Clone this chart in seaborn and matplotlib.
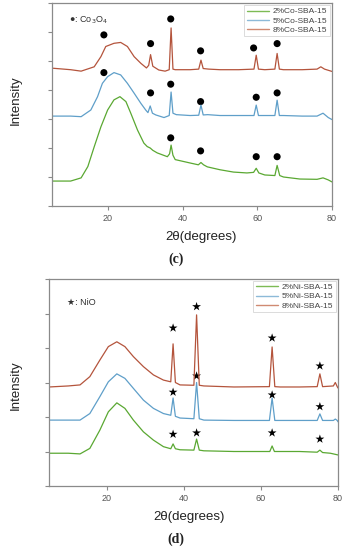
import numpy as np
import pandas as pd
import matplotlib
matplotlib.use("Agg")
import matplotlib.pyplot as plt
import seaborn as sns
from matplotlib.lines import Line2D

# ---------------- data ----------------
# Panel (c): Co-SBA-15
co2_x = [5.3, 10, 12.8, 14.6, 16.3, 18.1, 19.9, 21.6, 23.2, 24.8, 26.1, 27.9, 29.6, 30.5, 31.3, 32.0, 33.2, 35.9, 36.5, 36.9, 37.4, 38, 42.1, 44.2, 44.9, 45.6, 46.6, 50, 53.6, 57.2, 59.0, 59.7, 60.4, 62, 64.7, 65.3, 66, 67, 71.4, 76, 77.6, 79, 80]
co2_y = [0.86, 0.86, 0.97, 1.36, 2.04, 2.73, 3.31, 3.66, 3.77, 3.6, 3.2, 2.62, 2.17, 2.05, 2.0, 1.92, 1.83, 1.7, 1.8, 2.1, 1.75, 1.6, 1.48, 1.42, 1.5, 1.42, 1.35, 1.25, 1.17, 1.14, 1.16, 1.3, 1.14, 1.07, 1.05, 1.4, 1.05, 1.0, 0.93, 0.92, 0.97, 0.9, 0.83]

co5_x = [5.3, 10, 12.8, 15.4, 17.2, 18.5, 19.9, 21.6, 23.4, 25.2, 27, 28.8, 30.1, 30.7, 31.3, 31.9, 32.8, 35, 36.4, 36.9, 37.4, 38.3, 42, 44.3, 44.9, 45.5, 46.7, 50, 53.8, 57.4, 59.1, 59.7, 60.3, 62, 64.7, 65.3, 65.9, 67, 72, 76, 77.6, 79, 80]
co5_y = [3.1, 3.1, 3.08, 3.31, 3.77, 4.23, 4.46, 4.6, 4.52, 4.23, 3.89, 3.54, 3.31, 3.22, 3.45, 3.2, 3.14, 3.05, 3.12, 3.93, 3.2, 3.15, 3.12, 3.13, 3.48, 3.14, 3.15, 3.12, 3.12, 3.12, 3.12, 3.48, 3.12, 3.12, 3.12, 3.65, 3.12, 3.12, 3.1, 3.1, 3.2, 3.05, 2.98]

co8_x = [5.3, 10, 12.8, 16.3, 18.1, 19.4, 21.6, 23.4, 25.2, 27, 28.8, 30.3, 30.9, 31.4, 32, 33.6, 35.3, 36.4, 36.9, 37.4, 38, 42, 44.3, 44.9, 45.5, 47, 50, 55, 59.1, 59.7, 60.3, 62, 64.7, 65.3, 65.9, 67, 72, 76, 77, 78, 80]
co8_y = [4.75, 4.7, 4.65, 4.8, 5.15, 5.5, 5.61, 5.64, 5.5, 5.15, 4.92, 4.76, 4.85, 5.22, 4.82, 4.69, 4.65, 4.7, 6.14, 4.72, 4.7, 4.7, 4.72, 5.03, 4.74, 4.72, 4.7, 4.7, 4.72, 5.2, 4.72, 4.7, 4.72, 5.26, 4.72, 4.7, 4.7, 4.72, 4.8, 4.72, 4.64]

co_peak_x = [18.9, 31.4, 36.8, 44.8, 59.0, 65.3]
co8_mark_y = [5.9, 5.6, 6.45, 5.35, 5.45, 5.6]
co5_mark_x = [18.9, 31.4, 36.8, 44.8, 59.7, 65.3]
co5_mark_y = [4.6, 3.9, 4.2, 3.6, 3.75, 3.9]
co2_mark_x = [36.8, 44.8, 59.7, 65.3]
co2_mark_y = [2.35, 1.9, 1.7, 1.7]

# Panel (d): Ni-SBA-15
ni2_x = [5, 10, 13.05, 15.6, 18.2, 20.4, 22.6, 24.7, 26.9, 29.5, 32.1, 34.7, 36.6, 37.2, 37.8, 39, 42.6, 43.3, 44.0, 45.2, 53, 61.8, 62.3, 62.9, 63.5, 64.9, 70, 74.6, 75.3, 76, 78, 80]
ni2_y = [0.95, 0.95, 0.93, 1.09, 1.62, 2.15, 2.41, 2.25, 1.91, 1.57, 1.33, 1.14, 1.08, 1.22, 1.08, 1.05, 1.04, 1.36, 1.04, 1.02, 1.0, 1.0, 1.0, 1.16, 1.0, 1.0, 1.0, 0.98, 1.04, 0.97, 0.95, 0.9]

ni5_x = [5, 10, 13.05, 15.6, 18.2, 20.4, 22.6, 24.7, 26.9, 29.5, 32.1, 34.7, 36.6, 37.2, 37.8, 39, 42.6, 43.3, 44.0, 45.2, 53, 62.2, 62.9, 63.6, 65, 70, 74.6, 75.3, 76, 78.8, 79.3, 79.8, 80]
ni5_y = [1.91, 1.91, 1.91, 2.1, 2.59, 3.02, 3.25, 3.12, 2.83, 2.49, 2.25, 2.1, 2.05, 2.55, 2.02, 1.97, 1.95, 3.0, 1.95, 1.91, 1.9, 1.9, 2.55, 1.9, 1.9, 1.9, 1.9, 2.09, 1.9, 1.9, 1.94, 1.9, 1.86]

ni8_x = [5, 10, 13.05, 15.6, 18.2, 20.4, 22.6, 24.7, 26.9, 29.5, 32.1, 34.7, 36.6, 37.2, 37.8, 39, 42.6, 43.3, 44.0, 45.2, 53, 62.2, 62.9, 63.6, 65, 70, 74.6, 75.3, 76, 78.8, 79.3, 79.8, 80]
ni8_y = [2.87, 2.9, 2.93, 3.17, 3.65, 4.04, 4.18, 4.04, 3.75, 3.46, 3.22, 3.07, 3.02, 4.12, 3.0, 2.93, 2.92, 4.96, 2.92, 2.9, 2.87, 2.88, 4.03, 2.88, 2.87, 2.87, 2.88, 3.25, 2.88, 2.9, 3.0, 2.88, 2.84]

ni_peak_x = [37.2, 43.3, 62.9, 75.3]
ni8_mark_y = [4.58, 5.2, 4.29, 3.48]
ni5_mark_y = [2.72, 3.19, 2.64, 2.3]
ni2_mark_y = [1.5, 1.54, 1.54, 1.36]

co_labels = ["2%Co-SBA-15", "5%Co-SBA-15", "8%Co-SBA-15"]
ni_labels = ["2%Ni-SBA-15", "5%Ni-SBA-15", "8%Ni-SBA-15"]
x_ticks = [20, 40, 60, 80]

# ---------------- styling ----------------
sns.set_theme(style="ticks")
plt.rcParams['font.family'] = ['Liberation Sans', 'DejaVu Sans']

GREEN = "#5aa832"
BLUE = "#5f9fc9"
RED = "#b4543c"
LEG_COLORS = ["#7dbb55", "#8dbad8", "#d08a72"]
SPINE = "#8a8a8a"

fig = plt.figure(figsize=(3.47, 5.5), dpi=100)
ax1 = fig.add_axes([52/347, 1-206/550, 280/347, 203/550])
ax2 = fig.add_axes([49/347, 1-486/550, 289/347, 207/550])

def series_df(xs, ys, labels):
    frames = []
    for x, y, lab in zip(xs, ys, labels):
        frames.append(pd.DataFrame({"x": x, "y": y, "s": lab}))
    return pd.concat(frames, ignore_index=True)

co_df = series_df([co2_x, co5_x, co8_x], [co2_y, co5_y, co8_y], co_labels)
ni_df = series_df([ni2_x, ni5_x, ni8_x], [ni2_y, ni5_y, ni8_y], ni_labels)

sns.lineplot(data=co_df, x="x", y="y", hue="s", palette=[GREEN, BLUE, RED],
             sort=False, estimator=None, linewidth=0.9, ax=ax1, legend=False)
sns.lineplot(data=ni_df, x="x", y="y", hue="s", palette=[GREEN, BLUE, RED],
             sort=False, estimator=None, linewidth=0.9, ax=ax2, legend=False)

# markers
co_mk = pd.DataFrame({
    "x": co_peak_x + co5_mark_x + co2_mark_x,
    "y": co8_mark_y + co5_mark_y + co2_mark_y})
sns.scatterplot(data=co_mk, x="x", y="y", color="black", marker="o", s=26,
                edgecolor="none", ax=ax1, legend=False)
ni_mk = pd.DataFrame({
    "x": ni_peak_x * 3,
    "y": ni8_mark_y + ni5_mark_y + ni2_mark_y})
sns.scatterplot(data=ni_mk, x="x", y="y", color="black", marker="*", s=45,
                edgecolor="none", ax=ax2, legend=False)

for ax, ymax in ((ax1, 7), (ax2, 6)):
    ax.set_xlim(5, 80)
    ax.set_ylim(0, ymax)
    ax.set_xticks(x_ticks)
    ax.set_xticklabels([str(t) for t in x_ticks], fontsize=6.5, color="#555555")
    ax.set_yticks(range(0, ymax + 1))
    ax.set_yticklabels([])
    ax.set_xlabel("")
    ax.set_ylabel("")
    for sp in ax.spines.values():
        sp.set_color(SPINE)
        sp.set_linewidth(0.9)
    ax.tick_params(axis="both", colors=SPINE, length=3, width=0.8, pad=3,
                   labelcolor="#555555")

# legends
for ax, labels in ((ax1, co_labels), (ax2, ni_labels)):
    handles = [Line2D([0], [0], color=c, lw=1.0) for c in LEG_COLORS]
    leg = ax.legend(handles, labels, loc="upper right", fontsize=6,
                    frameon=True, handlelength=2.6, handletextpad=0.5,
                    labelspacing=0.15, borderpad=0.3, borderaxespad=0.25,
                    fancybox=False)
    leg.get_frame().set_edgecolor("#cccccc")
    leg.get_frame().set_linewidth(0.6)
    for t in leg.get_texts():
        t.set_color("#444444")

ax1.text(0.062, 0.915, "●: Co$_3$O$_4$", transform=ax1.transAxes, fontsize=6.5,
         color="#333333", va="center", ha="left")
ax2.text(0.062, 0.885, "★: NiO", transform=ax2.transAxes, fontsize=6.5,
         color="#333333", va="center", ha="left")

# axis titles
fig.text(16/347, 1-100/550, "Intensity", rotation=90, fontsize=9.5,
         ha="center", va="center", color="#222222")
fig.text(16/347, 1-385/550, "Intensity", rotation=90, fontsize=9.5,
         ha="center", va="center", color="#222222")
fig.text(201/347, 1-237/550, "2θ(degrees)", fontsize=9.5, ha="center",
         va="center", color="#222222")
fig.text(189/347, 1-517/550, "2θ(degrees)", fontsize=9.5, ha="center",
         va="center", color="#222222")
fig.text(176/347, 1-259/550, "(c)", fontsize=10, ha="center", va="center",
         family=["Liberation Serif", "DejaVu Serif"], fontweight="bold",
         color="#222222")
fig.text(176/347, 1-539/550, "(d)", fontsize=10, ha="center", va="center",
         family=["Liberation Serif", "DejaVu Serif"], fontweight="bold",
         color="#222222")

fig.savefig("out.png", dpi=100)
